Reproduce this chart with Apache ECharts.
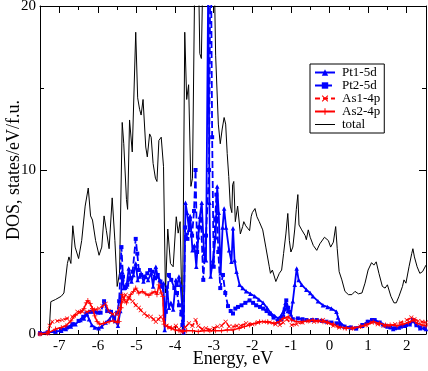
<!DOCTYPE html>
<html>
<head>
<meta charset="utf-8">
<script src="https://cdn.jsdelivr.net/npm/echarts@6/dist/echarts.min.js"></script>
<style>html,body{margin:0;padding:0;background:#fff}#c{width:428px;height:371px}</style>
</head>
<body>
<div id="c"></div>
<script>
// ---- data (energy in eV, DOS in states/eV/f.u.) ----
const seriesNames = ["Pt1-5d", "Pt2-5d", "As1-4p", "As2-4p", "total"];
const xTickLabels = [-7, -6, -5, -4, -3, -2, -1, 0, 1, 2];
const yTickLabels = [0, 10, 20];

const totalPts = [[-7.5,0],[-7.3,0],[-7.26,0.2],[-7.22,1.97],[-7.1,2.1],[-6.95,2.3],[-6.88,2.5],[-6.79,4.3],[-6.75,4.7],[-6.7,4.3],[-6.65,6.6],[-6.59,5.3],[-6.5,4.6],[-6.42,5.7],[-6.33,7.8],[-6.25,8.9],[-6.19,7.2],[-6.14,6.95],[-6.06,5.7],[-5.97,4.8],[-5.9,5.3],[-5.84,7.2],[-5.78,6.3],[-5.71,5.2],[-5.63,8.3],[-5.56,5.7],[-5.5,2.9],[-5.44,3.7],[-5.37,12.9],[-5.33,11.6],[-5.26,8.2],[-5.23,7.6],[-5.18,13.05],[-5.11,11.1],[-5.07,11.2],[-5.02,18.4],[-4.97,14.4],[-4.92,13.7],[-4.88,13.35],[-4.83,14.3],[-4.76,11.4],[-4.72,10.8],[-4.66,12.2],[-4.62,12.0],[-4.57,10.4],[-4.51,9.5],[-4.47,9.3],[-4.42,11.8],[-4.36,12.0],[-4.3,10.2],[-4.25,2.5],[-4.19,6.4],[-4.12,4.3],[-4.05,4.1],[-3.97,7.15],[-3.92,6.15],[-3.87,6.85],[-3.81,0.2],[-3.75,18.4],[-3.7,14.3],[-3.65,15.2],[-3.59,9.0],[-3.55,9.5],[-3.48,24],[-3.42,26],[-3.36,17.1],[-3.32,16.8],[-3.25,26],[-3.1,30],[-3.0,24],[-2.95,17],[-2.88,12.8],[-2.83,11.6],[-2.78,12.5],[-2.73,13.2],[-2.69,12.8],[-2.65,11],[-2.61,9.6],[-2.57,7.8],[-2.53,7.4],[-2.51,9.1],[-2.48,9.3],[-2.44,6.85],[-2.38,7.8],[-2.31,6.1],[-2.25,6.55],[-2.22,6.85],[-2.17,6.6],[-2.12,6.45],[-2.07,6.3],[-2.03,7.15],[-2.0,7.4],[-1.93,7.65],[-1.88,7.15],[-1.82,6.85],[-1.73,6.35],[-1.65,5.3],[-1.56,4.1],[-1.53,3.7],[-1.48,3.9],[-1.39,3.2],[-1.35,3.1],[-1.3,3.7],[-1.24,3.9],[-1.19,4.9],[-1.13,6.1],[-1.08,7.35],[-1.04,5.7],[-1.0,5.0],[-0.95,5.3],[-0.9,6.4],[-0.86,7.6],[-0.82,8.5],[-0.79,6.65],[-0.72,6.35],[-0.63,6.0],[-0.6,5.75],[-0.55,6.35],[-0.5,5.9],[-0.42,5.4],[-0.33,5.1],[-0.25,5.5],[-0.13,5.9],[-0.03,5.7],[0.03,5.3],[0.1,5.6],[0.16,6.55],[0.2,5.2],[0.25,3.8],[0.32,3.3],[0.4,2.6],[0.49,2.4],[0.58,2.4],[0.66,2.6],[0.75,2.45],[0.84,2.5],[0.92,3.1],[1.0,3.9],[1.09,4.35],[1.15,4.2],[1.21,4.4],[1.28,3.7],[1.37,2.9],[1.44,2.8],[1.5,3.0],[1.59,2.3],[1.67,1.9],[1.73,1.9],[1.8,2.3],[1.89,2.9],[1.93,3.3],[1.98,3.1],[2.06,4.1],[2.13,4.9],[2.16,5.2],[2.2,4.7],[2.27,4.1],[2.34,3.7],[2.41,3.8],[2.5,4.2]];

const pt1Pts = [[-7.5,0.05],[-7.3,0.1],[-7.1,0.15],[-6.95,0.2],[-6.83,0.3],[-6.7,0.45],[-6.58,0.6],[-6.45,0.85],[-6.36,0.95],[-6.28,1.2],[-6.23,0.9],[-6.16,0.55],[-6.08,0.4],[-5.98,0.35],[-5.9,0.45],[-5.8,0.7],[-5.7,0.9],[-5.62,1.2],[-5.55,0.8],[-5.48,0.5],[-5.42,1.4],[-5.37,3.8],[-5.33,2.8],[-5.26,2.9],[-5.2,4.0],[-5.13,3.2],[-5.08,3.6],[-5.02,4.3],[-4.97,3.3],[-4.92,3.5],[-4.88,3.7],[-4.82,3.2],[-4.76,3.5],[-4.7,3.3],[-4.62,3.7],[-4.57,2.9],[-4.5,4.1],[-4.45,3.5],[-4.4,3.3],[-4.36,2.9],[-4.3,3.1],[-4.27,0.25],[-4.21,2.9],[-4.16,1.6],[-4.11,1.9],[-4.05,1.5],[-3.98,3.3],[-3.94,3.0],[-3.9,3.5],[-3.86,3.0],[-3.81,1.45],[-3.78,0.1],[-3.73,8.0],[-3.69,7.4],[-3.64,6.35],[-3.61,7.2],[-3.55,5.1],[-3.5,5.4],[-3.45,4.1],[-3.4,5.9],[-3.36,7.15],[-3.31,8.0],[-3.25,4.9],[-3.2,4.5],[-3.14,22],[-3.11,8],[-3.08,3.5],[-3.02,4.5],[-2.95,5.9],[-2.91,9.0],[-2.87,7.4],[-2.82,3.7],[-2.77,6.5],[-2.73,7.65],[-2.68,6.5],[-2.6,5.1],[-2.54,4.4],[-2.5,6.45],[-2.46,4.5],[-2.41,3.8],[-2.33,3.0],[-2.25,2.8],[-2.16,2.6],[-2.05,2.45],[-1.94,2.3],[-1.83,2.1],[-1.72,1.9],[-1.62,1.6],[-1.51,1.25],[-1.42,1.1],[-1.33,0.95],[-1.26,1.1],[-1.2,1.35],[-1.14,1.9],[-1.08,1.4],[-1.0,1.2],[-0.95,2.0],[-0.9,3.0],[-0.85,4.0],[-0.8,3.3],[-0.72,3.0],[-0.6,2.7],[-0.5,2.5],[-0.43,2.3],[-0.3,2.0],[-0.17,1.75],[-0.05,1.65],[0.05,1.55],[0.18,1.35],[0.22,1.0],[0.26,0.75],[0.39,0.45],[0.55,0.4],[0.69,0.35],[0.85,0.5],[0.99,0.75],[1.1,0.85],[1.2,0.8],[1.38,0.6],[1.5,0.45],[1.65,0.3],[1.8,0.4],[1.95,0.5],[2.08,0.6],[2.16,0.8],[2.25,0.55],[2.35,0.35],[2.5,0.3]];

const pt2Pts = [[-7.5,0.05],[-7.3,0.1],[-7.1,0.15],[-6.95,0.25],[-6.8,0.4],[-6.66,0.6],[-6.5,0.8],[-6.38,1.05],[-6.3,1.25],[-6.2,1.35],[-6.1,1.35],[-6.0,1.3],[-5.93,1.3],[-5.84,2.0],[-5.76,1.4],[-5.66,1.35],[-5.58,0.95],[-5.5,1.3],[-5.45,2.0],[-5.39,5.3],[-5.35,3.5],[-5.3,2.8],[-5.24,3.0],[-5.17,3.4],[-5.1,3.8],[-5.02,5.8],[-4.98,4.9],[-4.94,3.9],[-4.88,3.6],[-4.8,3.5],[-4.72,3.7],[-4.65,3.9],[-4.59,3.8],[-4.52,3.4],[-4.45,3.6],[-4.38,3.2],[-4.33,3.0],[-4.27,1.8],[-4.24,1.35],[-4.16,3.6],[-4.1,3.3],[-4.02,2.8],[-3.95,2.5],[-3.9,1.75],[-3.84,1.2],[-3.81,0.55],[-3.78,0.2],[-3.74,6.5],[-3.68,5.8],[-3.62,7.0],[-3.56,6.0],[-3.51,7.5],[-3.47,10.0],[-3.43,5.0],[-3.38,6.5],[-3.33,7.0],[-3.27,3.3],[-3.2,6.0],[-3.12,10],[-3.08,26],[-3.04,12],[-3.0,4.1],[-2.96,7.0],[-2.93,8.5],[-2.88,5.0],[-2.83,2.8],[-2.76,3.6],[-2.7,2.5],[-2.63,1.7],[-2.56,1.4],[-2.5,1.25],[-2.44,1.55],[-2.37,1.65],[-2.28,1.75],[-2.18,1.9],[-2.07,2.05],[-1.98,1.9],[-1.9,1.75],[-1.8,1.65],[-1.72,1.55],[-1.63,1.4],[-1.55,1.25],[-1.45,1.0],[-1.33,0.75],[-1.25,0.9],[-1.2,1.05],[-1.16,1.5],[-1.12,2.05],[-1.07,1.6],[-1.03,1.35],[-0.95,0.9],[-0.82,0.95],[-0.7,0.9],[-0.6,0.85],[-0.45,0.85],[-0.33,0.85],[-0.2,0.8],[-0.08,0.75],[0.05,0.7],[0.18,0.65],[0.28,0.55],[0.39,0.45],[0.55,0.4],[0.69,0.35],[0.85,0.55],[0.99,0.75],[1.1,0.85],[1.17,0.85],[1.3,0.7],[1.45,0.5],[1.58,0.4],[1.7,0.35],[1.85,0.45],[1.98,0.55],[2.08,0.65],[2.16,0.85],[2.25,0.6],[2.35,0.4],[2.47,0.35]];

const as1Pts = [[-7.5,0.0],[-7.3,0.05],[-7.25,0.5],[-7.18,0.75],[-7.05,0.8],[-6.92,0.85],[-6.8,0.95],[-6.66,1.05],[-6.53,1.35],[-6.4,1.35],[-6.28,1.35],[-6.15,1.45],[-6.05,1.5],[-5.97,1.55],[-5.88,1.7],[-5.8,1.85],[-5.72,1.4],[-5.62,1.2],[-5.52,1.2],[-5.44,1.6],[-5.36,2.0],[-5.28,2.4],[-5.2,2.2],[-5.1,2.0],[-5.02,1.75],[-4.94,1.6],[-4.89,1.45],[-4.8,1.25],[-4.72,1.1],[-4.63,1.05],[-4.56,0.9],[-4.5,0.75],[-4.43,0.9],[-4.37,1.05],[-4.3,0.85],[-4.22,0.5],[-4.14,0.4],[-4.07,0.35],[-3.98,0.5],[-3.9,0.3],[-3.82,0.15],[-3.74,0.4],[-3.64,0.65],[-3.55,0.5],[-3.47,0.85],[-3.4,0.5],[-3.3,0.3],[-3.2,0.35],[-3.1,0.25],[-3.0,0.35],[-2.9,0.45],[-2.8,0.5],[-2.69,0.75],[-2.6,0.45],[-2.5,0.45],[-2.4,0.5],[-2.3,0.5],[-2.16,0.65],[-2.0,0.6],[-1.85,0.7],[-1.7,0.75],[-1.55,0.7],[-1.4,0.6],[-1.29,0.55],[-1.2,0.7],[-1.1,0.9],[-0.98,0.55],[-0.85,0.6],[-0.7,0.7],[-0.55,0.8],[-0.4,0.75],[-0.25,0.8],[-0.17,0.85],[-0.05,0.7],[0.1,0.5],[0.25,0.4],[0.4,0.35],[0.6,0.35],[0.8,0.45],[0.95,0.55],[1.1,0.7],[1.25,0.6],[1.4,0.5],[1.55,0.5],[1.7,0.6],[1.85,0.7],[2.0,0.85],[2.12,1.0],[2.2,0.9],[2.3,0.8],[2.4,0.75],[2.5,0.7]];

const as2Pts = [[-7.5,0.0],[-7.3,0.05],[-7.27,0.15],[-7.1,0.3],[-6.95,0.4],[-6.83,0.5],[-6.7,0.8],[-6.58,1.15],[-6.45,1.35],[-6.36,1.55],[-6.3,1.9],[-6.26,2.05],[-6.2,1.85],[-6.14,1.55],[-6.08,1.1],[-6.02,0.75],[-5.95,0.6],[-5.85,0.65],[-5.71,0.75],[-5.6,0.8],[-5.5,0.7],[-5.45,0.75],[-5.4,1.6],[-5.37,2.4],[-5.32,2.1],[-5.26,1.9],[-5.2,2.2],[-5.15,2.4],[-5.08,2.6],[-5.02,2.8],[-4.94,2.5],[-4.85,2.6],[-4.76,2.45],[-4.68,2.35],[-4.6,2.5],[-4.52,2.6],[-4.47,2.4],[-4.42,3.0],[-4.36,2.5],[-4.32,2.3],[-4.29,0.6],[-4.2,0.45],[-4.1,0.35],[-4.0,0.25],[-3.9,0.2],[-3.8,0.15],[-3.7,0.2],[-3.55,0.2],[-3.4,0.15],[-3.25,0.2],[-3.1,0.2],[-2.95,0.2],[-2.8,0.2],[-2.65,0.25],[-2.5,0.25],[-2.34,0.35],[-2.2,0.45],[-2.07,0.55],[-1.91,0.65],[-1.81,0.75],[-1.6,0.75],[-1.44,0.65],[-1.3,0.75],[-1.2,0.95],[-1.07,1.05],[-0.98,0.85],[-0.85,0.75],[-0.69,0.75],[-0.55,0.8],[-0.43,0.85],[-0.3,0.8],[-0.17,0.75],[-0.05,0.7],[0.1,0.6],[0.22,0.45],[0.43,0.35],[0.6,0.35],[0.8,0.45],[0.95,0.55],[1.13,0.75],[1.3,0.65],[1.45,0.55],[1.57,0.55],[1.75,0.5],[1.9,0.6],[2.05,0.7],[2.16,0.85],[2.28,0.65],[2.4,0.55],[2.5,0.5]];

// ---- chart ----
const FONT = 'Liberation Serif';
const xMinor = [-7.5,-6.5,-5.5,-4.5,-3.5,-2.5,-1.5,-0.5,0.5,1.5,2.5];
const yMinor = [5, 15];
const PLUS = 'path://M0,4.2H10V5.8H0Z M4.2,0H5.8V10H4.2Z';
const CROSS = 'path://M1.1,0L5,3.9L8.9,0L10,1.1L6.1,5L10,8.9L8.9,10L5,6.1L1.1,10L0,8.9L3.9,5L0,1.1Z';
const LINEICON = 'path://M0,4.5H20V5.5H0Z';

function xAx(pos, ticks, len, labels, line) {
  return {
    type: 'value', position: pos, min: -7.5, max: 2.5,
    axisLine: {show: line, onZero: false, lineStyle: {color: '#000', width: 1}},
    axisTick: {show: true, inside: true, length: len, customValues: ticks, lineStyle: {color: '#000', width: 1}},
    axisLabel: labels ? {show: true, customValues: xTickLabels, color: '#000', fontFamily: FONT, fontSize: 15, margin: 5,
      formatter: v => String(v)} : {show: false},
    splitLine: {show: false},
    name: labels ? 'Energy, eV' : '', nameLocation: 'middle', nameGap: 16, nameMoveOverlap: false,
    nameTextStyle: {fontFamily: FONT, fontSize: 18, color: '#000'}
  };
}
function yAx(pos, ticks, len, labels, line) {
  return {
    type: 'value', position: pos, min: 0, max: 20,
    axisLine: {show: line, onZero: false, lineStyle: {color: '#000', width: 1}},
    axisTick: {show: true, inside: true, length: len, customValues: ticks, lineStyle: {color: '#000', width: 1}},
    axisLabel: labels ? {show: true, customValues: yTickLabels, color: '#000', fontFamily: FONT, fontSize: 15, margin: 4} : {show: false},
    splitLine: {show: false},
    name: labels ? 'DOS, states/eV/f.u.' : '', nameLocation: 'middle', nameGap: 17, nameMoveOverlap: false,
    nameTextStyle: {fontFamily: FONT, fontSize: 18, color: '#000'}
  };
}

const chart = echarts.init(document.getElementById('c'), null, {renderer: 'canvas'});
chart.setOption({
  animation: false,
  backgroundColor: '#fff',
  grid: {left: 40, right: 2, top: 6, bottom: 37, containLabel: false, outerBoundsMode: 'none'},
  xAxis: [
    xAx('bottom', xTickLabels, 7, true, true),
    xAx('bottom', xMinor, 4, false, false),
    xAx('top', xTickLabels, 7, false, true),
    xAx('top', xMinor, 4, false, false)
  ],
  yAxis: [
    yAx('left', yTickLabels, 7, true, true),
    yAx('left', yMinor, 4, false, false),
    yAx('right', yTickLabels, 7, false, true),
    yAx('right', yMinor, 4, false, false)
  ],
  legend: {
    orient: 'vertical', left: 310, top: 64,
    padding: [2, 4, 2, 4], itemGap: 0, itemWidth: 20, itemHeight: 8,
    borderColor: '#000', borderWidth: 1, backgroundColor: '#fff',
    textStyle: {fontFamily: FONT, fontSize: 13, lineHeight: 12, color: '#000', padding: [0, 0, 0, 2]},
    data: seriesNames.map((n, i) => i === 4 ? {name: n, icon: LINEICON} : {name: n})
  },
  series: [
    {name: seriesNames[0], type: 'line', data: pt1Pts, z: 4,
     symbol: 'triangle', symbolSize: 4.5, showAllSymbol: true,
     lineStyle: {color: '#0000ff', width: 1.8}, itemStyle: {color: '#0000ff'}},
    {name: seriesNames[1], type: 'line', data: pt2Pts, z: 4,
     symbol: 'rect', symbolSize: 4, showAllSymbol: true,
     lineStyle: {color: '#0000ff', width: 1.8, type: [7, 3]}, itemStyle: {color: '#0000ff'}},
    {name: seriesNames[2], type: 'line', data: as1Pts, z: 5,
     symbol: CROSS, symbolSize: 4.5, showAllSymbol: true,
     lineStyle: {color: '#ff0000', width: 1.5, type: [5, 3]}, itemStyle: {color: '#ff0000'}},
    {name: seriesNames[3], type: 'line', data: as2Pts, z: 5,
     symbol: PLUS, symbolSize: 5, showAllSymbol: true,
     lineStyle: {color: '#ff0000', width: 1.5}, itemStyle: {color: '#ff0000'}},
    {name: seriesNames[4], type: 'line', data: totalPts, z: 3,
     symbol: 'none', showSymbol: false,
     lineStyle: {color: '#000', width: 1}, itemStyle: {color: '#000'}}
  ]
});
</script>
</body>
</html>
